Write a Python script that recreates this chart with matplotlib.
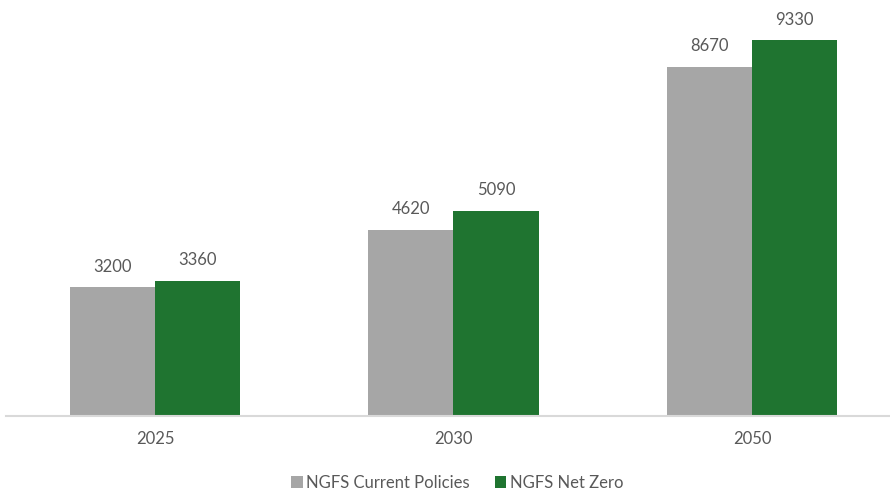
import numpy as np
import matplotlib.pyplot as plt

years = ["2025", "2030", "2050"]
current_policies = [3200, 4620, 8670]
net_zero = [3360, 5090, 9330]

grey = "#a6a6a6"
green = "#1f7430"
textcol = "#595959"

plt.rcParams['font.family'] = ['Lato', 'DejaVu Sans']

fig = plt.figure(figsize=(8.9, 4.94), dpi=100)
ax = fig.add_axes([5.7 / 890, 78 / 494, 1 - 5.7 / 890, 403 / 494])

x = np.arange(len(years))
w = 0.285
b1 = ax.bar(x - w / 2, current_policies, width=w, color=grey, label="NGFS Current Policies")
b2 = ax.bar(x + w / 2, net_zero, width=w, color=green, label="NGFS Net Zero")

for bars, vals in [(b1, current_policies), (b2, net_zero)]:
    for rect, v in zip(bars, vals):
        ax.annotate(str(v), (rect.get_x() + rect.get_width() / 2, v),
                    xytext=(0, 9), textcoords="offset points",
                    ha="center", va="bottom", fontsize=12, color=textcol)

ax.set_xlim(-0.5, (890 - 155) / 298.5)
ax.set_ylim(0, 10000)
ax.set_xticks(x)
ax.set_xticklabels(years, fontsize=12, color=textcol)
ax.tick_params(axis="x", length=0, pad=11)
ax.set_yticks([])
for s in ["top", "right", "left"]:
    ax.spines[s].set_visible(False)
ax.spines["bottom"].set_color("#d9d9d9")
ax.spines["bottom"].set_linewidth(1.5)

fig.legend(loc="center", bbox_to_anchor=(457 / 890, 1 - 483 / 494), ncol=2, frameon=False,
           fontsize=12, labelcolor=textcol, handlelength=0.7, handleheight=0.7,
           handletextpad=0.2, columnspacing=1.5)

fig.savefig("out.png", dpi=100)
